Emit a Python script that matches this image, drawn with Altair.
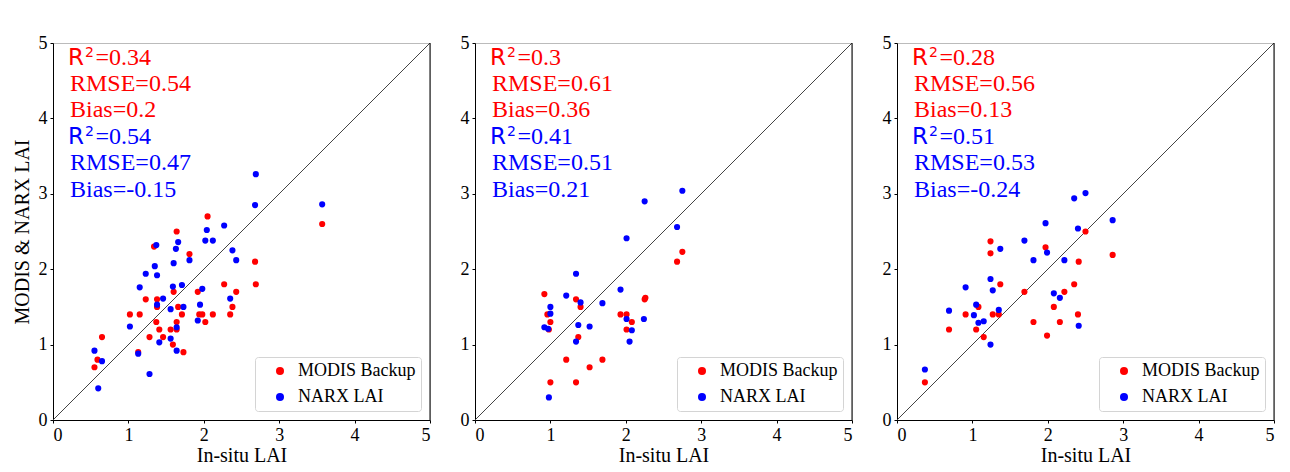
import altair as alt
import pandas as pd

SERIF = "Liberation Serif"
SANS = "DejaVu Sans"
RED = "#ff0000"
BLUE = "#0000ff"
SOURCES = ["MODIS Backup", "NARX LAI"]

# ---- Panel 1 ----
m1_x = [2.05, 1.64, 1.34, 1.81, 2.68, 3.57, 2.27, 2.69, 2.43, 1.92, 1.60, 1.23, 1.38, 2.38, 1.66, 1.38,
        1.02, 1.15, 1.71, 1.94, 1.98, 2.12, 2.35, 1.37, 1.64, 2.02, 1.41, 1.56, 1.64, 1.28, 1.46, 0.65,
        1.59, 1.73, 0.59, 0.55, 1.13]
m1_y = [2.7, 2.5, 2.3, 2.2, 2.1, 2.6, 1.8, 1.8, 1.7, 1.7, 1.7, 1.6, 1.6, 1.5, 1.5, 1.5,
        1.4, 1.4, 1.4, 1.4, 1.4, 1.4, 1.4, 1.3, 1.3, 1.3, 1.2, 1.2, 1.2, 1.1, 1.1, 1.1,
        1.0, 0.9, 0.8, 0.7, 0.9]
n1_x = [2.69, 2.68, 3.57, 2.27, 2.04, 2.02, 2.12, 1.37, 1.66, 1.63, 2.38, 2.43, 1.81, 1.60, 1.35, 1.23,
        1.38, 1.15, 1.59, 1.71, 1.98, 1.46, 2.35, 1.38, 1.95, 1.73, 1.56, 1.92, 1.02, 1.64, 1.56, 1.41,
        1.64, 1.13, 0.55, 0.65, 1.28, 0.60]
n1_y = [3.26, 2.85, 2.86, 2.58, 2.52, 2.38, 2.38, 2.32, 2.36, 2.27, 2.25, 2.12, 2.12, 2.08, 2.04, 1.94,
        1.92, 1.76, 1.77, 1.79, 1.74, 1.61, 1.61, 1.53, 1.53, 1.50, 1.47, 1.32, 1.24, 1.23, 1.08, 1.03,
        0.92, 0.88, 0.92, 0.78, 0.61, 0.42]

# ---- Panel 2 ----
m2_x = [2.75, 2.68, 2.25, 2.26, 0.92, 1.34, 1.40, 0.96, 1.00, 0.98, 1.93, 2.01, 2.08, 2.01, 1.37, 1.21,
        1.69, 1.52, 1.00, 1.34]
m2_y = [2.23, 2.1, 1.6, 1.62, 1.67, 1.6, 1.5, 1.4, 1.3, 1.2, 1.4, 1.4, 1.3, 1.2, 1.1, 0.8,
        0.8, 0.7, 0.5, 0.5]
n2_x = [2.75, 2.25, 2.68, 2.01, 1.34, 1.93, 1.21, 1.40, 1.69, 1.00, 1.00, 2.01, 2.24, 1.37, 1.52, 0.92,
        0.97, 2.08, 1.34, 2.05, 0.98]
n2_y = [3.04, 2.90, 2.56, 2.41, 1.94, 1.73, 1.65, 1.56, 1.55, 1.50, 1.41, 1.34, 1.34, 1.26, 1.24, 1.23,
        1.21, 1.19, 1.04, 1.04, 0.30]

# ---- Panel 3 ----
m3_x = [2.50, 1.24, 1.97, 1.24, 2.86, 2.41, 1.37, 2.35, 1.69, 2.22, 1.08, 2.08, 0.91, 1.27, 1.35, 2.40,
        0.69, 1.05, 1.81, 2.16, 1.15, 1.99, 0.37]
m3_y = [2.5, 2.37, 2.29, 2.21, 2.19, 2.1, 1.8, 1.8, 1.7, 1.7, 1.5, 1.5, 1.4, 1.4, 1.4, 1.4,
        1.2, 1.2, 1.3, 1.3, 1.1, 1.12, 0.5]
n3_x = [2.50, 2.35, 2.86, 1.97, 2.40, 1.69, 1.37, 1.99, 1.81, 2.22, 1.24, 0.91, 1.27, 2.08, 2.16, 1.05,
        1.35, 0.69, 1.02, 1.08, 1.15, 2.41, 1.24, 0.37]
n3_y = [3.01, 2.94, 2.65, 2.61, 2.54, 2.38, 2.27, 2.22, 2.12, 2.12, 1.87, 1.76, 1.72, 1.68, 1.62, 1.53,
        1.46, 1.45, 1.39, 1.29, 1.31, 1.25, 1.00, 0.67]

# ---- Statistics text ----
r2_modis = ["0.34", "0.3", "0.28"]
rmse_modis = ["0.54", "0.61", "0.56"]
bias_modis = ["0.2", "0.36", "0.13"]
r2_narx = ["0.54", "0.41", "0.51"]
rmse_narx = ["0.47", "0.51", "0.53"]
bias_narx = ["-0.15", "0.21", "-0.24"]

diag = [0, 5]
ticks = [0, 1, 2, 3, 4, 5]

W = 377
LINE0 = 21.5
STEP = 26.4

color_scale = alt.Scale(domain=SOURCES, range=[RED, BLUE])


def text_layer(txt, font, size, col, x, y):
    df = pd.DataFrame({"t": [txt]})
    return alt.Chart(df).mark_text(
        font=font, fontSize=size, color=col, align="left", baseline="alphabetic").encode(
        text="t:N", x=alt.value(x), y=alt.value(y))


def make_panel(i, mx, my, nx, ny, ytitle):
    pts = pd.DataFrame({
        "x": mx + nx,
        "y": my + ny,
        "src": [SOURCES[0]] * len(mx) + [SOURCES[1]] * len(nx),
        "ord": list(range(len(mx) + len(nx))),
    })
    xs = alt.Scale(domain=[0, 5], nice=False, zero=False)
    ys = alt.Scale(domain=[0, 5], nice=False, zero=False)
    xaxis = alt.Axis(values=ticks, title="In-situ LAI", grid=False, format="d")
    if ytitle:
        yaxis = alt.Axis(values=ticks, title=ytitle, grid=False, format="d")
    else:
        yaxis = alt.Axis(values=ticks, title="", grid=False, format="d")

    d = pd.DataFrame({"x": diag, "y": diag})
    line = alt.Chart(d).mark_line(color="#444444", strokeWidth=1).encode(
        x=alt.X("x:Q", scale=xs, axis=xaxis),
        y=alt.Y("y:Q", scale=ys, axis=yaxis),
    )
    right = alt.Chart(pd.DataFrame({"x": [5], "y": [0], "y2": [5]})).mark_rule(
        color="black", strokeWidth=1).encode(
        x=alt.X("x:Q", scale=xs), y=alt.Y("y:Q", scale=ys), y2="y2:Q")

    points = alt.Chart(pts).mark_circle(size=38, opacity=1).encode(
        x=alt.X("x:Q", scale=xs),
        y=alt.Y("y:Q", scale=ys),
        color=alt.Color("src:N", scale=color_scale,
                        legend=alt.Legend(title=None, orient="bottom-right")),
        order=alt.Order("ord:Q"),
    )

    layers = [line, right, points]
    groups = [(r2_modis[i], rmse_modis[i], bias_modis[i], RED),
              (r2_narx[i], rmse_narx[i], bias_narx[i], BLUE)]
    for g, (r2, rmse, bias, col) in enumerate(groups):
        base_y = LINE0 + STEP * 3 * g
        layers.append(text_layer("R", SANS, 23, col, 15, base_y))
        layers.append(text_layer("2", SANS, 14, col, 32, base_y - 7.5))
        layers.append(text_layer("=" + r2, SERIF, 24, col, 42.5, base_y))
        layers.append(text_layer("RMSE=" + rmse, SERIF, 24, col, 17, base_y + STEP))
        layers.append(text_layer("Bias=" + bias, SERIF, 24, col, 17, base_y + 2 * STEP))

    return alt.layer(*layers).properties(width=W, height=W)


p1 = make_panel(0, m1_x, m1_y, n1_x, n1_y, "MODIS & NARX LAI")
p2 = make_panel(1, m2_x, m2_y, n2_x, n2_y, None)
p3 = make_panel(2, m3_x, m3_y, n3_x, n3_y, None)

chart = alt.hconcat(p1, p2, p3, spacing=45, bounds="flush").resolve_legend(
    color="independent").resolve_scale(y="independent").properties(
    padding={"left": 3, "top": 25, "right": 5, "bottom": 5},
    background="white",
).configure_view(
    stroke="#bbbbbb", strokeWidth=1
).configure_axis(
    labelFont=SERIF, labelFontSize=18, labelColor="black",
    titleFont=SERIF, titleFontSize=20, titleFontWeight="normal", titleColor="black",
    domainColor="black", domainWidth=1, tickColor="black", tickSize=3, tickWidth=1,
    labelPadding=3, titlePadding=6,
).configure_axisX(
    titlePadding=1,
).configure_legend(
    orient="bottom-right", offset=9, padding=5, strokeColor="#d4d4d4", fillColor="white",
    cornerRadius=3, labelFont=SERIF, labelFontSize=18, labelColor="black",
    symbolType="circle", symbolSize=64, symbolStrokeWidth=0, symbolOffset=11,
    labelOffset=9, rowPadding=8,
)

chart.save("out.html", embed_options={"renderer": "svg", "actions": False})
